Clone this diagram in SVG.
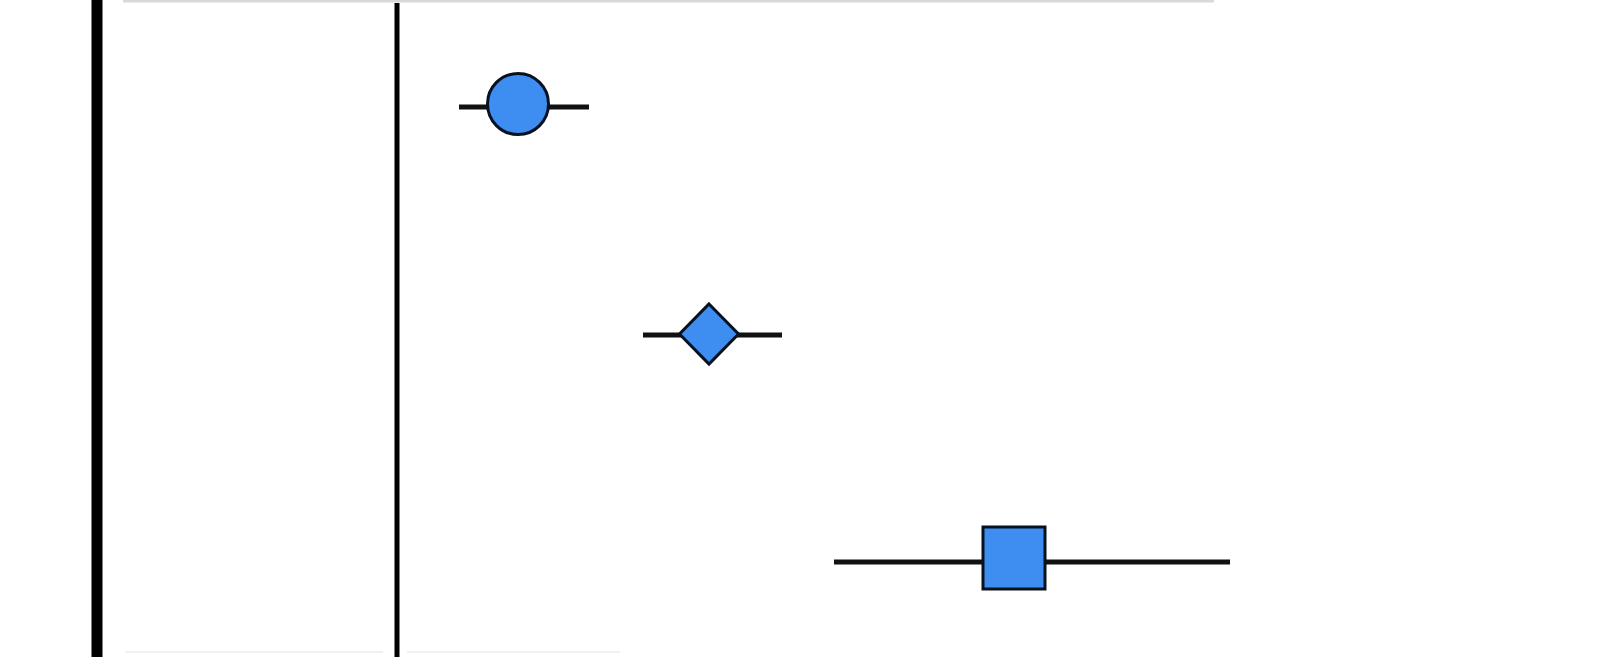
<svg xmlns="http://www.w3.org/2000/svg" width="1598" height="657" viewBox="0 0 1598 657">
<style>
.axis{stroke:#000;fill:none}
.whisker{stroke:#111;stroke-width:5;fill:none}
.marker{fill:#3d8ef0;stroke:#08111f;stroke-width:3}
.rule{stroke:#f1f1f1;stroke-width:2}
</style>
<rect width="1598" height="657" fill="#fff"/>
<g id="frame">
<line x1="123" y1="1" x2="1214" y2="1" stroke="#d9d9d9" stroke-width="3"/>
<line class="rule" x1="125" y1="652" x2="383" y2="652"/>
<line class="rule" x1="407" y1="652" x2="620" y2="652"/>
<line class="axis" x1="97" y1="0" x2="97" y2="657" stroke-width="11"/>
<line class="axis" x1="397" y1="3" x2="397" y2="657" stroke-width="5"/>
</g>
<g id="connectors">
<line class="whisker" x1="459" y1="107" x2="589" y2="107"/>
<line class="whisker" x1="643" y1="335" x2="782" y2="335"/>
<line class="whisker" x1="834" y1="562" x2="1230" y2="562"/>
</g>
<g id="node-circle">
<circle class="marker" cx="518" cy="104" r="30.5"/>
</g>
<g id="node-diamond">
<polygon class="marker" points="709,304 738.5,334 709,364 679.5,334"/>
</g>
<g id="node-square">
<rect class="marker" x="983" y="527" width="62" height="62"/>
</g>
</svg>
